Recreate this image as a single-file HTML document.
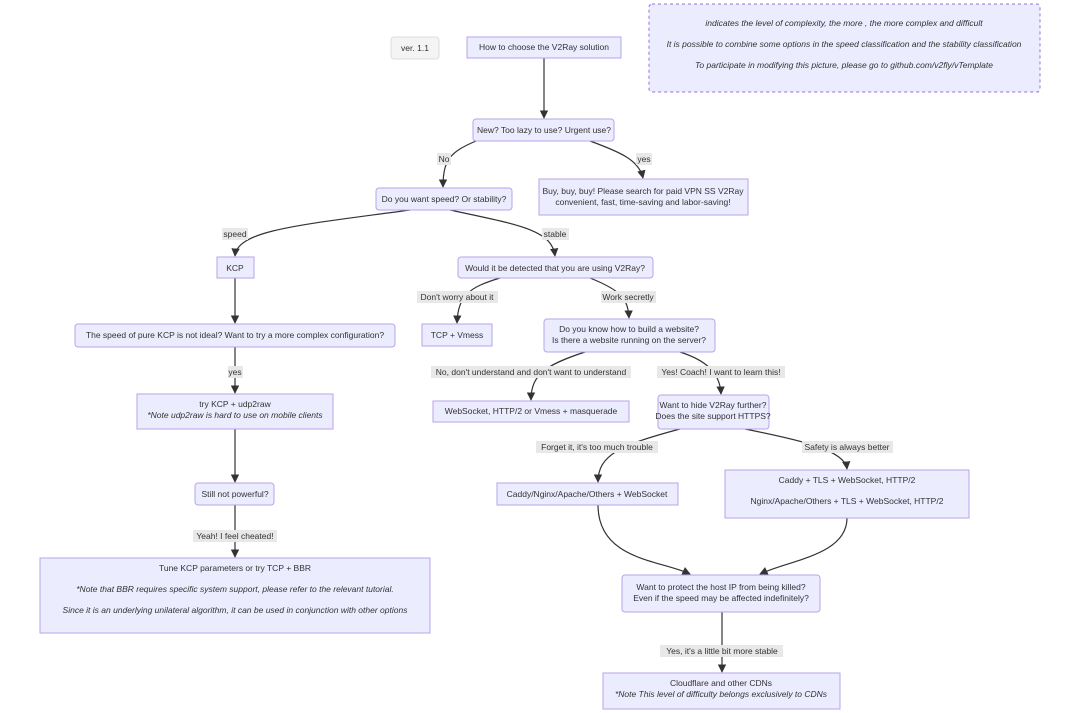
<!DOCTYPE html>
<html><head><meta charset="utf-8"><style>
html,body{margin:0;padding:0;background:#fff;}
svg{display:block;font-family:"Liberation Sans","DejaVu Sans",sans-serif;}
.n{fill:#ECECFF;stroke:#b7a3ea;stroke-width:1;}
.t{font-size:8.5px;fill:#333;text-anchor:middle;}
.i{font-style:italic;}
.e{fill:none;stroke:#333;stroke-width:1.2;}
.lb{fill:#e8e8e8;}
</style></head><body>
<svg width="1080" height="713" viewBox="0 0 1080 713" xmlns="http://www.w3.org/2000/svg">
<defs><marker id="a" viewBox="0 0 10 10" refX="9" refY="5" markerWidth="7" markerHeight="7" orient="auto"><path d="M0,0L10,5L0,10z" fill="#333"/></marker></defs>

<!-- edges -->
<g class="e" marker-end="url(#a)">
<path d="M544,58 L544,118"/>
<path d="M476,141 C450,152 443,160 443,187"/>
<path d="M590,141 C620,152 639,160 643,178"/>
<path d="M410,210 C300,225 237,230 235,256"/>
<path d="M450,210 C520,225 552,230 555,256"/>
<path d="M235,278 L235,323"/>
<path d="M500,278 C470,287 458,295 457,323"/>
<path d="M590,278 C620,290 628,298 629,318"/>
<path d="M235,347 L235,393"/>
<path d="M585,352 C545,365 531,375 531,400"/>
<path d="M680,352 C705,360 720,372 721,394"/>
<path d="M235,429 L235,482"/>
<path d="M680,429 C620,445 598,455 598,482"/>
<path d="M745,429 C800,440 845,450 847,469"/>
<path d="M235,505 L235,557"/>
<path d="M598,505 C598,560 660,560 690,574"/>
<path d="M847,518 C847,555 790,560 760,574"/>
<path d="M722,612 L722,672"/>
</g>

<!-- edge labels -->
<g>
<rect class="lb" x="437" y="153" width="14" height="12"/><text class="t" x="444" y="162">No</text>
<rect class="lb" x="636" y="153" width="16" height="12"/><text class="t" x="644" y="162">yes</text>
<rect class="lb" x="222" y="228" width="26" height="12"/><text class="t" x="235" y="237">speed</text>
<rect class="lb" x="542" y="228" width="27" height="12"/><text class="t" x="555" y="237">stable</text>
<rect class="lb" x="417" y="291" width="81" height="12"/><text class="t" x="457" y="300">Don't worry about it</text>
<rect class="lb" x="601" y="291" width="55" height="12"/><text class="t" x="628" y="300">Work secretly</text>
<rect class="lb" x="228" y="366" width="15" height="12"/><text class="t" x="235" y="375">yes</text>
<rect class="lb" x="431" y="366" width="200" height="12"/><text class="t" x="531" y="375">No, don't understand and don't want to understand</text>
<rect class="lb" x="657" y="366" width="128" height="12"/><text class="t" x="721" y="375">Yes! Coach! I want to learn this!</text>
<rect class="lb" x="536" y="441" width="122" height="12"/><text class="t" x="597" y="450">Forget it, it's too much trouble</text>
<rect class="lb" x="802" y="441" width="91" height="12"/><text class="t" x="847" y="450">Safety is always better</text>
<rect class="lb" x="193" y="530" width="84" height="12"/><text class="t" x="235" y="539">Yeah! I feel cheated!</text>
<rect class="lb" x="660" y="645" width="123" height="12"/><text class="t" x="722" y="654">Yes, it's a little bit more stable</text>
</g>

<!-- nodes -->
<rect x="391" y="37" width="48" height="22" rx="3" fill="#f4f4f4" stroke="#ddd"/><text class="t" x="415" y="51">ver. 1.1</text>
<rect class="n" x="467" y="37" width="154" height="21"/><text class="t" x="544" y="50">How to choose the V2Ray solution</text>
<rect class="n" x="473" y="119" width="141" height="22" rx="3"/><text class="t" x="544" y="133">New? Too lazy to use? Urgent use?</text>
<rect class="n" x="539" y="179" width="209" height="36"/><text class="t" x="643" y="194">Buy, buy, buy! Please search for paid VPN SS V2Ray</text><text class="t" x="643" y="205">convenient, fast, time-saving and labor-saving!</text>
<rect class="n" x="376" y="188" width="136" height="22" rx="3"/><text class="t" x="444" y="202">Do you want speed? Or stability?</text>
<rect class="n" x="217" y="257" width="37" height="21"/><text class="t" x="235" y="271">KCP</text>
<rect class="n" x="458" y="257" width="195" height="21" rx="3"/><text class="t" x="555" y="271">Would it be detected that you are using V2Ray?</text>
<rect class="n" x="422" y="324" width="70" height="22"/><text class="t" x="457" y="338">TCP + Vmess</text>
<rect class="n" x="544" y="319" width="171" height="33" rx="3"/><text class="t" x="629" y="332">Do you know how to build a website?</text><text class="t" x="629" y="343">Is there a website running on the server?</text>
<rect class="n" x="75" y="324" width="320" height="23" rx="3"/><text class="t" x="235" y="338">The speed of pure KCP is not ideal? Want to try a more complex configuration?</text>
<rect class="n" x="137" y="394" width="196" height="35"/><text class="t" x="235" y="407">try KCP + udp2raw</text><text class="t i" x="235" y="418">*Note udp2raw is hard to use on mobile clients</text>
<rect class="n" x="433" y="401" width="196" height="21"/><text class="t" x="531" y="414">WebSocket, HTTP/2 or Vmess + masquerade</text>
<rect class="n" x="658" y="395" width="111" height="34" rx="3"/><text class="t" x="713" y="408">Want to hide V2Ray further?</text><text class="t" x="713" y="419">Does the site support HTTPS?</text>
<rect class="n" x="497" y="483" width="181" height="22"/><text class="t" x="587" y="497">Caddy/Nginx/Apache/Others + WebSocket</text>
<rect class="n" x="725" y="470" width="244" height="48"/><text class="t" x="847" y="483">Caddy + TLS + WebSocket, HTTP/2</text><text class="t" x="847" y="504">Nginx/Apache/Others + TLS + WebSocket, HTTP/2</text>
<rect class="n" x="195" y="483" width="79" height="22" rx="3"/><text class="t" x="235" y="497">Still not powerful?</text>
<rect class="n" x="40" y="558" width="390" height="75"/><text class="t" x="235" y="571">Tune KCP parameters or try TCP + BBR</text><text class="t i" x="235" y="592">*Note that BBR requires specific system support, please refer to the relevant tutorial.</text><text class="t i" x="235" y="613">Since it is an underlying unilateral algorithm, it can be used in conjunction with other options</text>
<rect class="n" x="622" y="575" width="198" height="37" rx="3"/><text class="t" x="721" y="590">Want to protect the host IP from being killed?</text><text class="t" x="721" y="601">Even if the speed may be affected indefinitely?</text>
<rect class="n" x="603" y="673" width="237" height="36"/><text class="t" x="721" y="686">Cloudflare and other CDNs</text><text class="t i" x="721" y="697">*Note This level of difficulty belongs exclusively to CDNs</text>

<rect x="649" y="4" width="391" height="88" rx="3" fill="#ECECFF" stroke="#9370DB" stroke-dasharray="3,3"/>
<text class="t i" x="844" y="26">indicates the level of complexity, the more , the more complex and difficult</text>
<text class="t i" x="844" y="47">It is possible to combine some options in the speed classification and the stability classification</text>
<text class="t i" x="844" y="68">To participate in modifying this picture, please go to github.com/v2fly/vTemplate</text>
</svg>
</body></html>
